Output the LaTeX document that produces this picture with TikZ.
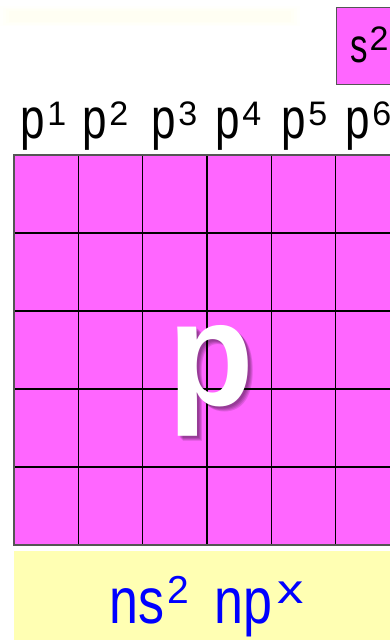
\documentclass[tikz,border=0pt]{standalone}
\usepackage{fontspec}
\setmainfont{Liberation Sans}
\usepackage{graphicx}
\definecolor{pmag}{HTML}{FF66FF}
\definecolor{pyel}{HTML}{FFFFB3}
\definecolor{pblue}{HTML}{0000FF}
\definecolor{bord}{HTML}{555555}
\newcommand{\plab}[1]{\scalebox{1}[1.3]{\fontsize{44}{44}\selectfont p}\hspace{3pt}\raisebox{13pt}{\fontsize{34}{34}\selectfont #1}}
\newcommand{\bigpglyph}{\scalebox{1}[1.06]{\fontsize{140}{140}\selectfont\bfseries p}}
\newcommand{\pshad}[1]{\rlap{\hspace{#1pt}\raisebox{-#1pt}{\pgfsetfillopacity{0.12}\color{black}\bigpglyph}}}
\begin{document}
\begin{tikzpicture}[x=1pt,y=-1pt,
  lab/.style={anchor=base west,inner sep=0pt,outer sep=0pt},
  gridline/.style={black,line width=1.2pt},
  outline/.style={bord,line width=1.5pt}]
\useasboundingbox (0,0) rectangle (390,640);
% faint band at top
\foreach \o in {0,3,6,9}{
  \fill[yellow,opacity=0.01] (0+\o,6+\o/2) rectangle (300-\o,26-\o/2);
}
% s^2 box
\fill[pmag] (336,7) rectangle (400,84);
\draw[outline,line width=1pt] (400,7) -- (336,7) -- (336,84) -- (400,84);
\node[lab] (s2) at (350,62) {\scalebox{1}[1.37]{\fontsize{35}{35}\selectfont s}\hspace{2pt}\raisebox{12pt}{\fontsize{34}{34}\selectfont 2}};
% labels
\node[lab] (l1) at (20,138) {\plab{1}};
\node[lab] (l2) at (82,138) {\plab{2}};
\node[lab] (l3) at (151,138) {\plab{3}};
\node[lab] (l4) at (215,138) {\plab{4}};
\node[lab] (l5) at (281,138) {\plab{5}};
\node[lab] (l6) at (345,138) {\plab{6}};
% grid
\fill[pmag] (14,155) rectangle (400,545);
\foreach \x in {78.3,142.6,207,271.3,335.6} \draw[gridline] (\x,155) -- (\x,545);
\foreach \y in {233,311,389,467} \draw[gridline] (14,\y) -- (400,\y);
\draw[outline] (400,155) -- (14,155) -- (14,545) -- (400,545);
% big p with soft shadow
\node[lab] (bigp) at (168.7,405) {\pshad{2}\pshad{3}\pshad{4}\pshad{5}\pgfsetfillopacity{1}{\color{white}\bigpglyph}};
% bottom box
\fill[pyel] (14,551) rectangle (400,650);
\node[lab,text=pblue] (conf) at (109.5,623) {\scalebox{1}[1.25]{\fontsize{52}{52}\selectfont ns}\hspace{3pt}\raisebox{20pt}{\fontsize{39}{39}\selectfont 2}\hspace{25pt}\scalebox{1}[1.25]{\fontsize{52}{52}\selectfont np}\hspace{6pt}\raisebox{20pt}{\scalebox{1.35}[1.05]{\fontsize{39}{39}\selectfont x}}};
\end{tikzpicture}
\end{document}
